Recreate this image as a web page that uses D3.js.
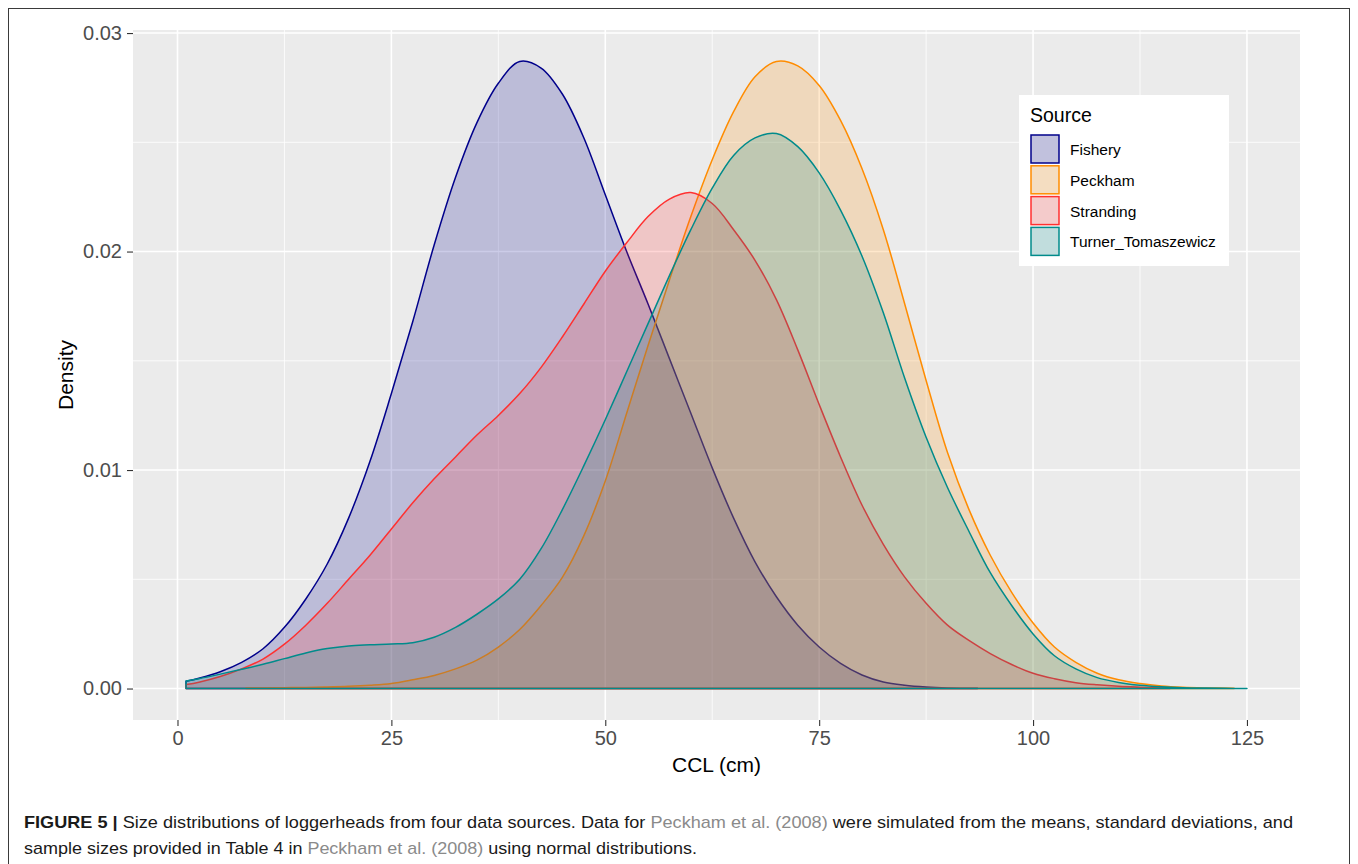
<!DOCTYPE html>
<html>
<head>
<meta charset="utf-8">
<script src="https://cdn.jsdelivr.net/npm/d3@7"></script>
<style>
  html, body { margin: 0; padding: 0; background: #ffffff; }
  svg { display: block; }
</style>
</head>
<body>
<svg id="chart" width="1358" height="864"></svg>
<script>
// ---------------- Data ----------------
const sources = ["Fishery", "Peckham", "Stranding", "Turner_Tomaszewicz"];
const lineColors = ["#00008B", "#FF8C00", "#FF3030", "#008B8B"];

const fisheryX = [1, 2.5, 5, 7.5, 10, 12.5, 15, 17.5, 20, 22.5, 25, 27.5, 30, 32.5, 35, 37.5, 40, 42.5, 45, 47.5, 50, 52.5, 55, 57.5, 60, 62.5, 65, 67.5, 70, 72.5, 75, 77.5, 80, 82.5, 85, 87.5, 90, 93.5];
const fisheryY = [0.00033, 0.00047, 0.00077, 0.00120, 0.00182, 0.0028, 0.0041, 0.0057, 0.0078, 0.0104, 0.0135, 0.0168, 0.0203, 0.0234, 0.0259, 0.0277, 0.0287, 0.0284, 0.0272, 0.0252, 0.0226, 0.0200, 0.0176, 0.0151, 0.0126, 0.0101, 0.0078, 0.0058, 0.0042, 0.0029, 0.0019, 0.00115, 0.00062, 0.0003, 0.00015, 0.00007, 0.00003, 0.00001];

const peckhamX = [8, 10, 12.5, 15, 17.5, 20, 22.5, 25, 27.5, 30, 32.5, 35, 37.5, 40, 42.5, 45, 47.5, 50, 52.5, 55, 57.5, 60, 62.5, 65, 67.5, 70, 72.5, 75, 77.5, 80, 82.5, 85, 87.5, 90, 92.5, 95, 97.5, 100, 102.5, 105, 107.5, 110, 112.5, 115, 117.5, 120, 123.5];
const peckhamY = [0.00002, 0.00003, 0.00004, 0.00005, 0.00007, 0.0001, 0.00015, 0.00023, 0.0004, 0.0006, 0.0009, 0.0013, 0.0019, 0.0027, 0.0038, 0.0051, 0.0070, 0.0095, 0.0126, 0.0157, 0.0187, 0.0216, 0.0242, 0.0264, 0.0280, 0.0287, 0.0285, 0.0276, 0.0260, 0.0238, 0.0210, 0.0176, 0.0141, 0.0108, 0.0082, 0.0061, 0.0044, 0.0030, 0.0019, 0.0012, 0.0007, 0.0004, 0.00023, 0.00012, 0.00006, 0.00003, 0.00001];

const strandingX = [1, 2.5, 5, 7.5, 10, 12.5, 15, 17.5, 20, 22.5, 25, 27.5, 30, 32.5, 35, 37.5, 40, 42.5, 45, 47.5, 50, 52.5, 55, 57.5, 60, 62.5, 65, 67.5, 70, 72.5, 75, 77.5, 80, 82.5, 85, 87.5, 90, 92.5, 95, 97.5, 100, 102.5, 105, 107.5, 110, 112.5, 116];
const strandingY = [0.00018, 0.00029, 0.00055, 0.00090, 0.00135, 0.00203, 0.0029, 0.0039, 0.0050, 0.0061, 0.0073, 0.0085, 0.0096, 0.0106, 0.0116, 0.0125, 0.0135, 0.0147, 0.0161, 0.0176, 0.0191, 0.0204, 0.0216, 0.0224, 0.0227, 0.0222, 0.0210, 0.0196, 0.0178, 0.0155, 0.0130, 0.0106, 0.0084, 0.0066, 0.0051, 0.0039, 0.0029, 0.0022, 0.0016, 0.0011, 0.0007, 0.00045, 0.00027, 0.00017, 0.0001, 0.00006, 0.00002];

const turnerX = [1, 2.5, 5, 7.5, 10, 12.5, 15, 17.5, 20, 22.5, 25, 27.5, 30, 32.5, 35, 37.5, 40, 42.5, 45, 47.5, 50, 52.5, 55, 57.5, 60, 62.5, 65, 67.5, 70, 72.5, 75, 77.5, 80, 82.5, 85, 87.5, 90, 92.5, 95, 97.5, 100, 102.5, 105, 107.5, 110, 112.5, 115, 117.5, 120, 122.5, 125];
const turnerY = [0.00034, 0.00045, 0.00066, 0.00088, 0.00111, 0.00137, 0.00163, 0.00183, 0.00195, 0.0020, 0.00204, 0.0021, 0.00235, 0.0028, 0.0034, 0.0041, 0.0050, 0.0064, 0.0082, 0.0102, 0.0123, 0.0145, 0.0167, 0.0189, 0.0210, 0.0229, 0.0244, 0.0252, 0.0254, 0.0248, 0.0236, 0.0219, 0.0198, 0.0172, 0.0142, 0.0115, 0.0092, 0.0072, 0.0053, 0.0038, 0.0025, 0.0015, 0.0009, 0.0005, 0.00028, 0.00015, 0.00008, 0.00004, 0.00002, 0.00001, 0.0];

const xTicks = [0, 25, 50, 75, 100, 125];
const xMinor = [12.5, 37.5, 62.5, 87.5, 112.5];
const yTicks = [0, 0.01, 0.02, 0.03];
const yMinor = [0.005, 0.015, 0.025];
const xTitle = "CCL (cm)";
const yTitle = "Density";
const legendTitle = "Source";

const seriesX = [fisheryX, peckhamX, strandingX, turnerX];
const seriesY = [fisheryY, peckhamY, strandingY, turnerY];

// ---------------- Layout ----------------
const svg = d3.select("#chart");
const panel = { left: 133, right: 1300, top: 30, bottom: 720 };

const x = d3.scaleLinear().domain([-5.2, 131.2]).range([panel.left, panel.right]);
const y = d3.scaleLinear().domain([-0.00144, 0.03014]).range([panel.bottom, panel.top]);

// outer figure frame
svg.append("rect")
  .attr("x", 8.5).attr("y", 8.5).attr("width", 1341).attr("height", 870)
  .attr("fill", "none").attr("stroke", "#3a3a3a").attr("stroke-width", 1);

// panel background
svg.append("rect")
  .attr("x", panel.left).attr("y", panel.top)
  .attr("width", panel.right - panel.left).attr("height", panel.bottom - panel.top)
  .attr("fill", "#EBEBEB");

const grid = svg.append("g");
xMinor.forEach(v => grid.append("line")
  .attr("x1", x(v)).attr("x2", x(v)).attr("y1", panel.top).attr("y2", panel.bottom)
  .attr("stroke", "#fff").attr("stroke-width", 0.8));
yMinor.forEach(v => grid.append("line")
  .attr("y1", y(v)).attr("y2", y(v)).attr("x1", panel.left).attr("x2", panel.right)
  .attr("stroke", "#fff").attr("stroke-width", 0.8));
xTicks.forEach(v => grid.append("line")
  .attr("x1", x(v)).attr("x2", x(v)).attr("y1", panel.top).attr("y2", panel.bottom)
  .attr("stroke", "#fff").attr("stroke-width", 1.6));
yTicks.forEach(v => grid.append("line")
  .attr("y1", y(v)).attr("y2", y(v)).attr("x1", panel.left).attr("x2", panel.right)
  .attr("stroke", "#fff").attr("stroke-width", 1.6));

// density areas (full outline polygons)
const area = d3.area()
  .x(d => x(d[0]))
  .y0(y(0))
  .y1(d => y(Math.max(0, d[1])))
  .curve(d3.curveCatmullRom.alpha(0.5));

const plot = svg.append("g");
sources.forEach((s, i) => {
  const pts = seriesX[i].map((xv, j) => [xv, seriesY[i][j]]);
  plot.append("path")
    .attr("d", area(pts))
    .attr("fill", lineColors[i])
    .attr("fill-opacity", 0.2)
    .attr("stroke", lineColors[i])
    .attr("stroke-width", 1.5)
    .attr("stroke-linejoin", "round");
});

// axes
const font = "'Liberation Sans', Arial, Helvetica, sans-serif";
const xAxis = d3.axisBottom(x).tickValues(xTicks).tickSize(6).tickPadding(5).tickFormat(d3.format("d"));
const gx = svg.append("g").attr("transform", `translate(0,${panel.bottom})`).call(xAxis);
gx.select(".domain").remove();
gx.selectAll(".tick line").attr("stroke", "#333").attr("stroke-width", 1.1);
gx.selectAll(".tick text").attr("fill", "#4D4D4D").style("font-family", font).style("font-size", "20px");

const yAxis = d3.axisLeft(y).tickValues(yTicks).tickSize(6).tickPadding(5).tickFormat(d3.format(".2f"));
const gy = svg.append("g").attr("transform", `translate(${panel.left},0)`).call(yAxis);
gy.select(".domain").remove();
gy.selectAll(".tick line").attr("stroke", "#333").attr("stroke-width", 1.1);
gy.selectAll(".tick text").attr("fill", "#4D4D4D").style("font-family", font).style("font-size", "20px");

svg.append("text")
  .attr("x", (panel.left + panel.right) / 2).attr("y", 772)
  .attr("text-anchor", "middle").attr("fill", "#000")
  .style("font-family", font).style("font-size", "21px")
  .text(xTitle);

svg.append("text")
  .attr("transform", "translate(73,375) rotate(-90)")
  .attr("text-anchor", "middle").attr("fill", "#000")
  .style("font-family", font).style("font-size", "21px")
  .text(yTitle);

// legend
const lg = svg.append("g");
lg.append("rect").attr("x", 1019).attr("y", 95).attr("width", 210).attr("height", 171).attr("fill", "#fff");
lg.append("text").attr("x", 1030).attr("y", 122)
  .style("font-family", font).style("font-size", "19.5px").attr("fill", "#000").text(legendTitle);
sources.forEach((s, i) => {
  const ky = 135 + i * 30.8;
  lg.append("rect").attr("x", 1031).attr("y", ky).attr("width", 28).attr("height", 28)
    .attr("fill", "#F2F2F2");
  lg.append("rect").attr("x", 1031).attr("y", ky).attr("width", 28).attr("height", 28)
    .attr("fill", lineColors[i]).attr("fill-opacity", 0.2)
    .attr("stroke", lineColors[i]).attr("stroke-width", 1.5);
  lg.append("text").attr("x", 1070).attr("y", ky + 14.5).attr("dy", "0.35em")
    .style("font-family", font).style("font-size", "15.5px").attr("fill", "#000").text(s);
});

// caption
const capFont = "'Liberation Sans Narrow', 'Liberation Sans', Arial, sans-serif";
const cap1 = svg.append("text").attr("x", 24).attr("y", 828)
  .style("font-family", capFont).style("font-size", "17px").attr("fill", "#1a1a1a")
  .attr("textLength", 1269).attr("lengthAdjust", "spacingAndGlyphs");
cap1.append("tspan").style("font-weight", "bold").text("FIGURE 5 | ");
cap1.append("tspan").text("Size distributions of loggerheads from four data sources. Data for ");
cap1.append("tspan").attr("fill", "#8a8a8a").text("Peckham et al. (2008)");
cap1.append("tspan").text(" were simulated from the means, standard deviations, and");

const cap2 = svg.append("text").attr("x", 24).attr("y", 854)
  .style("font-family", capFont).style("font-size", "17px").attr("fill", "#1a1a1a")
  .attr("textLength", 673).attr("lengthAdjust", "spacingAndGlyphs");
cap2.append("tspan").text("sample sizes provided in Table 4 in ");
cap2.append("tspan").attr("fill", "#8a8a8a").text("Peckham et al. (2008)");
cap2.append("tspan").text(" using normal distributions.");
</script>
</body>
</html>
